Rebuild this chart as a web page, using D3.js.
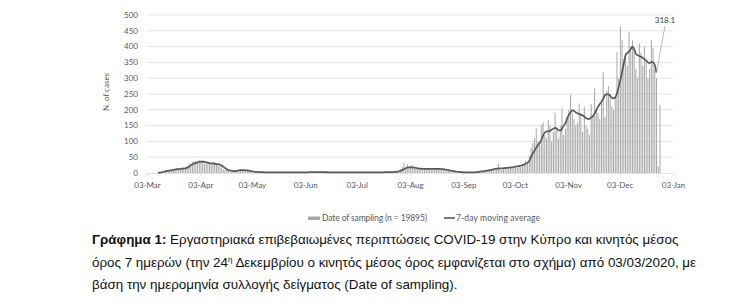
<!DOCTYPE html>
<html>
<head>
<meta charset="utf-8">
<script src="https://cdn.jsdelivr.net/npm/d3@7"></script>
<style>
  body { margin: 0; background: #fff; }
  #wrap { position: relative; width: 750px; height: 303px; overflow: hidden; }
  svg { position: absolute; left: 0; top: 0; }
  #caption {
    position: absolute; left: 92px; top: 229px; width: 568px;
    font-family: "Liberation Sans", Arial, sans-serif; font-size: 13.4px;
    line-height: 22.5px; color: #111;
  }
  #caption .j { text-align: justify; text-align-last: justify; white-space: nowrap; }
  #caption sup { font-size: 8px; vertical-align: 5px; line-height: 0; }
</style>
</head>
<body>
<div id="wrap">
  <svg id="chart" width="750" height="303"></svg>
  <div id="caption">
    <div class="j"><b>Γράφημα 1:</b> Εργαστηριακά επιβεβαιωμένες περιπτώσεις COVID-19 στην Κύπρο και κινητός μέσος</div>
    <div class="j">όρος 7 ημερών (την 24<sup>η</sup> Δεκεμβρίου ο κινητός μέσος όρος εμφανίζεται στο σχήμα) από 03/03/2020, με</div>
    <div>βάση την ημερομηνία συλλογής δείγματος (Date of sampling).</div>
  </div>
</div>
<script>
// daily cases by date of sampling, from 03-Mar-2020
var casesMar = [0,0,0,0,0,0, 2,1,4,3,7,9,8, 10,8,12,11,14,13,12, 16,18,14,22,30,30,36,34,38];
var casesApr = [35,42,36,40,30,36,33, 28,32,30,34,26,28,25, 20,12,10,8,6,5,6, 7,10,9,11,8,9,7, 6,8];
var casesMay = [5,6,4,3,2,3,2, 2,3,2,1,2,3,2, 1,2,3,2,1,2,2, 3,2,1,2,3,2,1, 2,3,2];
var casesJun = [2,3,2,1,3,4,2, 1,3,5,4,3,2,2, 1,2,3,2,1,2,3, 2,1,2,1,2,3,2, 1,2];
var casesJul = [2,1,3,2,1,2,3, 2,2,1,3,2,1,2, 3,2,4,2,1,3,2, 2,3,4,6,5,8,12, 18,33,14];
var casesAug = [28,20,22,25,18,14,16, 12,13,11,14,12,15,13, 12,10,14,11,13,12,10, 11,9,8,7,6,5,4, 4,3,3];
var casesSep = [2,2,3,1,2,3,2, 1,2,3,4,6,5,7, 8,10,12,9,11,14,13, 16,30,15,14,13,18,16, 15,17];
var casesOct = [14,18,20,16,24,19,22, 26,40,35,55,80,95,110, 141,100,90,152,160,120,110, 168,150,100,130,190,145,110, 150,205,120];
var casesNov = [140,180,200,247,190,170,150, 160,220,190,130,210,150,140, 120,218,180,268,200,190,170, 230,320,178,260,275,250,210, 200,240];
var casesDec = [384,300,465,420,360,380,340, 447,400,420,398,330,300,410, 380,340,400,350,300,330,421, 395,330,300,20,215];

// 7-day moving average, from 09-Mar-2020 to 24-Dec-2020
var avgMar = [0.5,1,2,3,5,6,7, 8,9,10,11,12,12,13, 14,14,15,17,20,24,27,30,32];
var avgApr = [34,35,36,36,35,34,33, 31,30,31,29,28,28,27, 24,20,16,12,9,8,7, 6,6,7,8,9,9,9, 8,8];
var avgMay = [7,6,5,4,3.5,3,3, 2.5,2.5,2,2,2,2,2, 2,2,2,2,2,2,2, 2,2,2,2,2,2,2, 2,2,2];
var avgJun = [2,2,2,2,2.5,2.5,2.5, 3,3,3,3,3,3,2.5, 2.5,2,2,2,2,2,2, 2,2,2,2,2,2,2, 2,2];
var avgJul = [2,2,2,2,2,2,2, 2,2,2,2,2,2,2, 2,2,2,2,2.5,2.5,2.5, 2.5,3,3,3.5,4,5,7, 9,12,15];
var avgAug = [17,18,18,18,17,16,15, 14,14,13,13,13,13,13, 13,13,13,13,13,13,12, 12,11,10,9,8,7,6, 5,4,4];
var avgSep = [3,3,2,2,2,2,2, 2,2,3,3,4,5,5, 6,7,8,9,10,12,13, 14,14,15,15,15,16,16, 17,17];
var avgOct = [18,19,20,21,22,23,25, 27,30,33,38,50,62,70, 80,88,95,105,118,128,131, 132,133,137,140,143,140,136, 134,140,150];
var avgNov = [157,172,184,192,199,196,192, 189,187,184,183,178,174,171, 171,176,180,189,199,210,218, 226,235,247,249,249,245,238, 236,240];
var avgDec = [252,272,294,320,348,373,380, 384,392,400,392,377,373,370, 368,364,360,356,350,347,352, 350,342,318.1];

var yTicks = [0,50,100,150,200,250,300,350,400,450,500];
var lastLabel = "318.1";

var casesStart = new Date(2020, 2, 3);
var avgStart = new Date(2020, 2, 9);

var cases = [].concat(casesMar, casesApr, casesMay, casesJun, casesJul, casesAug, casesSep, casesOct, casesNov, casesDec)
  .map(function(v, i) { return { date: d3.timeDay.offset(casesStart, i), value: v }; });
var avg = [].concat(avgMar, avgApr, avgMay, avgJun, avgJul, avgAug, avgSep, avgOct, avgNov, avgDec)
  .map(function(v, i) { return { date: d3.timeDay.offset(avgStart, i), value: v }; });

var svg = d3.select('#chart');
var x = d3.scaleTime()
  .domain([new Date(2020, 2, 3), new Date(2021, 0, 3)])
  .range([147, 673]);
var y = d3.scaleLinear().domain([0, 500]).range([173, 15]);

var font = 'Lato, "Open Sans", sans-serif';

// gridlines
svg.append('g').selectAll('line')
  .data(yTicks.slice(1))
  .enter().append('line')
  .attr('x1', 147).attr('x2', 673)
  .attr('y1', function(d) { return y(d); }).attr('y2', function(d) { return y(d); })
  .attr('stroke', '#d9d9d9').attr('stroke-width', 0.75);

// y labels
svg.append('g').selectAll('text')
  .data(yTicks)
  .enter().append('text')
  .attr('x', 138)
  .attr('y', function(d) { return y(d); })
  .attr('dy', '0.35em')
  .attr('text-anchor', 'end')
  .style('font-family', font).style('font-size', '8px').style('fill', '#595959')
  .text(function(d) { return d; });

svg.append('text')
  .attr('transform', 'translate(109,92) rotate(-90)')
  .attr('text-anchor', 'middle')
  .style('font-family', font).style('font-size', '8px').style('fill', '#595959')
  .text('N. of cases');

// bars
svg.append('g').selectAll('rect')
  .data(cases)
  .enter().append('rect')
  .attr('x', function(d) { return x(d.date) + 0.2; })
  .attr('width', 1)
  .attr('y', function(d) { return y(d.value); })
  .attr('height', function(d) { return y(0) - y(d.value); })
  .attr('fill', '#a6a6a6');

// x axis
var months = d3.range(0, 11).map(function(i) { return new Date(2020, 2 + i, 3); });
var xAxis = svg.append('g')
  .attr('transform', 'translate(0,' + y(0) + ')')
  .call(d3.axisBottom(x).tickValues(months).tickFormat(d3.timeFormat('%d-%b')).tickSizeOuter(0).tickSize(3));
xAxis.select('.domain').attr('stroke', '#d9d9d9').attr('stroke-width', 0.75);
xAxis.selectAll('.tick line').attr('stroke', '#d9d9d9').attr('stroke-width', 0.75);
xAxis.selectAll('.tick text')
  .attr('y', 9)
  .style('font-family', font).style('font-size', '8px').style('fill', '#595959');

// moving average
var line = d3.line()
  .x(function(d) { return x(d.date) + 0.7; })
  .y(function(d) { return y(d.value); })
  .curve(d3.curveMonotoneX);
svg.append('path')
  .datum(avg)
  .attr('d', line)
  .attr('fill', 'none')
  .attr('stroke', '#595959')
  .attr('stroke-width', 1.7);

// label for the last average point
var last = avg[avg.length - 1];
svg.append('line')
  .attr('x1', x(last.date) + 0.7).attr('y1', y(last.value))
  .attr('x2', 665).attr('y2', 26)
  .attr('stroke', '#a6a6a6').attr('stroke-width', 0.75);
svg.append('text')
  .attr('x', 665).attr('y', 23)
  .attr('text-anchor', 'middle')
  .style('font-family', font).style('font-size', '8px').style('fill', '#404040')
  .text(lastLabel);

// legend
var lg = svg.append('g').style('font-family', font).style('font-size', '8.5px').style('fill', '#595959');
lg.append('rect').attr('x', 308).attr('y', 216.5).attr('width', 12).attr('height', 3.5).attr('fill', '#a6a6a6');
lg.append('text').attr('x', 322).attr('y', 218).attr('dy', '0.35em')
  .attr('textLength', 105).attr('lengthAdjust', 'spacing')
  .text('Date of sampling (n = 19895)');
lg.append('line').attr('x1', 444).attr('x2', 455).attr('y1', 218).attr('y2', 218)
  .attr('stroke', '#595959').attr('stroke-width', 1.6);
lg.append('text').attr('x', 456).attr('y', 218).attr('dy', '0.35em')
  .attr('textLength', 84).attr('lengthAdjust', 'spacing')
  .text('7-day moving average');
</script>
</body>
</html>
